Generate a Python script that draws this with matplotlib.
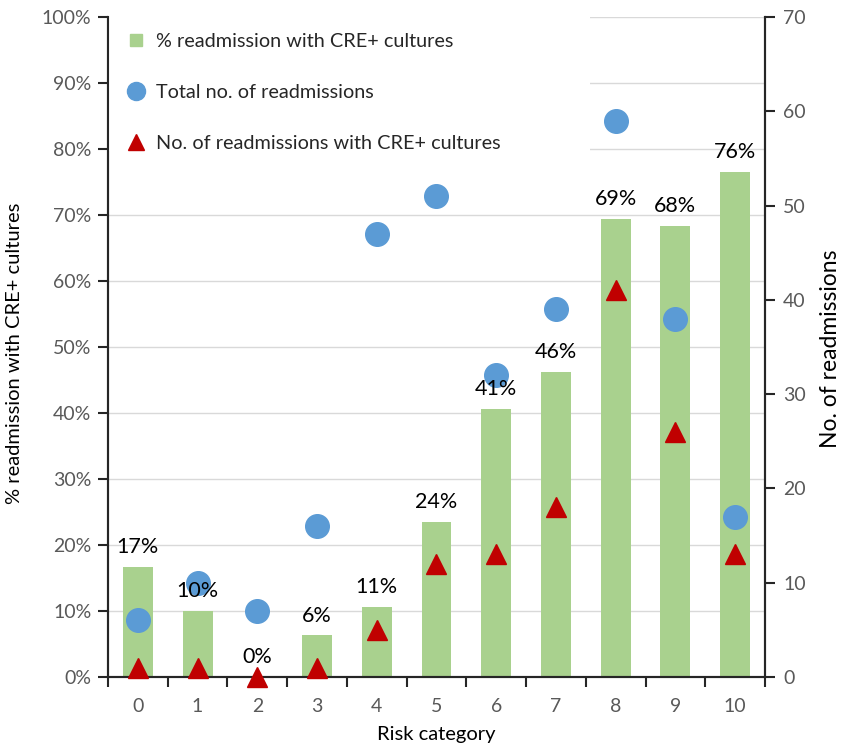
import matplotlib
matplotlib.use("Agg")
import matplotlib.pyplot as plt
from matplotlib.lines import Line2D
from matplotlib.patches import Rectangle
import numpy as np

plt.rcParams['font.family'] = ['Lato', 'DejaVu Sans']

# Data
categories = [0, 1, 2, 3, 4, 5, 6, 7, 8, 9, 10]
pct_cre = [16.7, 10.0, 0.0, 6.3, 10.6, 23.5, 40.6, 46.2, 69.4, 68.4, 76.5]
total_readm = [6, 10, 7, 16, 47, 51, 32, 39, 59, 38, 17]
cre_readm = [1, 1, 0, 1, 5, 12, 13, 18, 41, 26, 13]

green = '#a9d18e'
blue = '#5b9bd5'
red = '#c00000'
tick_gray = '#595959'
spine_col = '#262626'

fig = plt.figure(figsize=(8.41, 7.45), dpi=100)
ax = fig.add_axes([0.1284, 0.0913, 0.7812, 0.8859])
ax2 = ax.twinx()

x = np.arange(len(categories))
ax.bar(x, pct_cre, width=0.5, color=green, zorder=2)
ax.set_xlim(-0.5, len(categories) - 0.5)
ax.set_ylim(0, 100)
ax.set_yticks(np.arange(0, 101, 10))
ax.set_yticklabels([f"{v}%" for v in range(0, 101, 10)])
ax.yaxis.grid(True, color='#d9d9d9', linewidth=1, zorder=0)
ax.set_axisbelow(True)

# category labels centered, tick marks at boundaries
ax.set_xticks(np.arange(-0.5, len(categories), 1.0))
ax.set_xticklabels([])
ax.set_xticks(x, minor=True)
ax.set_xticklabels([str(c) for c in categories], minor=True)
ax.tick_params(axis='x', which='major', direction='out', length=7, width=1.5, color=spine_col)
ax.tick_params(axis='x', which='minor', length=0, pad=15, labelsize=14, labelcolor=tick_gray)
ax.tick_params(axis='y', direction='out', length=7, width=1.5, color=spine_col,
               labelsize=14, labelcolor=tick_gray, pad=5)

ax2.set_ylim(0, 70)
ax2.set_yticks(np.arange(0, 71, 10))
ax2.tick_params(axis='y', direction='out', length=7, width=1.5, color=spine_col,
                labelsize=14, labelcolor=tick_gray, pad=6)

for a in (ax, ax2):
    a.spines['top'].set_visible(False)
    for s in ('left', 'right', 'bottom'):
        a.spines[s].set_linewidth(1.5)
        a.spines[s].set_color(spine_col)

ax2.plot(x, total_readm, linestyle='none', marker='o', markersize=17,
         color=blue, clip_on=False, zorder=3)
ax2.plot(x, cre_readm, linestyle='none', marker='^', markersize=15,
         color=red, clip_on=False, zorder=4)

# percentage labels above bars
for xi, v in zip(x, pct_cre):
    ax2.annotate(f"{v:.0f}%", xy=(xi, v), xycoords=ax.transData,
                 xytext=(0, 7), textcoords='offset points',
                 ha='center', va='bottom', fontsize=15.5, color='black', zorder=6)

ax.set_ylabel("% readmission with CRE+ cultures", fontsize=14.5, color='black', va='center')
ax.yaxis.set_label_coords(-0.1416, 0.49)
ax2.set_ylabel("No. of readmissions", fontsize=16.5, color='black', va='center')
ax2.yaxis.set_label_coords(1.099, 0.498)
ax.set_xlabel("Risk category", fontsize=14.5, color='black', va='center')
ax.xaxis.set_label_coords(0.5, -0.0864)

# white legend area
ax2.add_patch(Rectangle((0, 0.797), 0.734, 0.21, transform=ax2.transAxes,
                        facecolor='white', edgecolor='none', zorder=2.5, clip_on=False))

handles = [
    Line2D([], [], linestyle='none', marker='s', markersize=9, color=green),
    Line2D([], [], linestyle='none', marker='o', markersize=13, color=blue),
    Line2D([], [], linestyle='none', marker='^', markersize=11, color=red),
]
labels = ["% readmission with CRE+ cultures", "Total no. of readmissions",
          "No. of readmissions with CRE+ cultures"]
leg = ax2.legend(handles, labels, loc='upper left', bbox_to_anchor=(0.0, 1.0),
                 frameon=False, fontsize=14.3, labelspacing=1.72, handlelength=1.2,
                 handletextpad=0.4, borderpad=0.5, borderaxespad=0.3,
                 labelcolor='#262626')
leg.set_zorder(10)

fig.savefig("out.png", dpi=100)
